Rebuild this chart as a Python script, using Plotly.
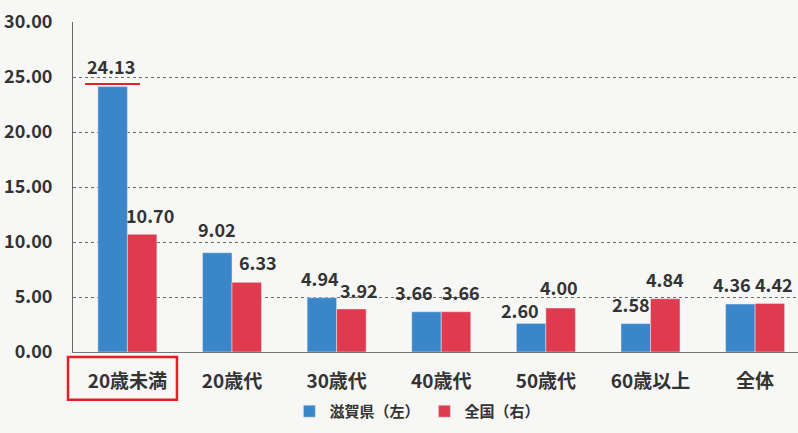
import plotly.graph_objects as go

categories = ["20歳未満", "20歳代", "30歳代", "40歳代", "50歳代", "60歳以上", "全体"]
shiga = [24.13, 9.02, 4.94, 3.66, 2.60, 2.58, 4.36]
zenkoku = [10.70, 6.33, 3.92, 3.66, 4.00, 4.84, 4.42]
y_ticks = [0, 5, 10, 15, 20, 25, 30]

# label placement tweaks (pixels) relative to bar tops
shiga_dx = [-2, 0, -2, -13, -11, -5, -8]
shiga_dy = [21, 24, 20, 20, 13, 20, 20]
zen_dx = [8, 11, 8, 5, -2, 0, 4]
zen_dy = [19, 20, 19, 20, 21, 20, 19]

BLUE = "#3b86c9"
RED = "#df3a4d"
FONT = "Noto Sans CJK JP"
TXT = "#333333"
W = 600

xi = list(range(len(categories)))
fig = go.Figure()
fig.add_trace(go.Bar(x=xi, y=shiga, name="滋賀県（左）", marker_color=BLUE))
fig.add_trace(go.Bar(x=xi, y=zenkoku, name="全国（右）", marker_color=RED))

off = 0.141
for i in xi:
    fig.add_annotation(x=i - off, y=shiga[i], text=f"{shiga[i]:.2f}", showarrow=False,
                       xshift=shiga_dx[i], yshift=shiga_dy[i], yanchor="middle",
                       font=dict(family=FONT, size=18, color=TXT, weight=W))
    fig.add_annotation(x=i + off, y=zenkoku[i], text=f"{zenkoku[i]:.2f}", showarrow=False,
                       xshift=zen_dx[i], yshift=zen_dy[i], yanchor="middle",
                       font=dict(family=FONT, size=18, color=TXT, weight=W))

# red underline under the highest value and red box around first category
fig.add_shape(type="line", xref="x", yref="y", x0=-0.405, x1=0.12, y0=24.36, y1=24.36,
              line=dict(color="#e8202a", width=2))
fig.add_shape(type="rect", xref="paper", yref="paper", x0=-0.0069, x1=0.1434, y0=-0.015, y1=-0.145,
              line=dict(color="#e51f25", width=2.5))

fig.update_layout(
    width=798, height=433,
    margin=dict(l=73, r=0, t=22, b=81),
    paper_bgcolor="#f7f7f5", plot_bgcolor="#f7f7f5",
    barmode="group", bargap=0.436, bargroupgap=0,
    font=dict(family=FONT, size=18, color=TXT),
    showlegend=True,
    legend=dict(orientation="h", x=0.475, xanchor="center", y=-0.18, yanchor="middle",
                font=dict(family=FONT, size=15, color=TXT, weight=W), bgcolor="rgba(0,0,0,0)",
                itemwidth=30, tracegroupgap=0),
    xaxis=dict(tickmode="array", tickvals=xi, ticktext=categories, range=[-0.52, 6.41],
               showgrid=False, showline=True, linecolor="#777", linewidth=1,
               ticks="", tickfont=dict(family=FONT, size=19, color=TXT, weight=W), ticklabelstandoff=12),
    yaxis=dict(range=[0, 30], tickvals=y_ticks, tickformat=".2f", showgrid=True,
               gridcolor="#6a6a6a", griddash="dot", gridwidth=1, zeroline=False,
               showline=True, linecolor="#666", linewidth=1, ticks="",
               tickfont=dict(family=FONT, size=18, color=TXT, weight=W), ticklabelstandoff=16),
)

fig.write_html("out.html", config={"displayModeBar": False},
               post_script="document.body.style.margin='0';document.body.style.overflow='hidden';")
